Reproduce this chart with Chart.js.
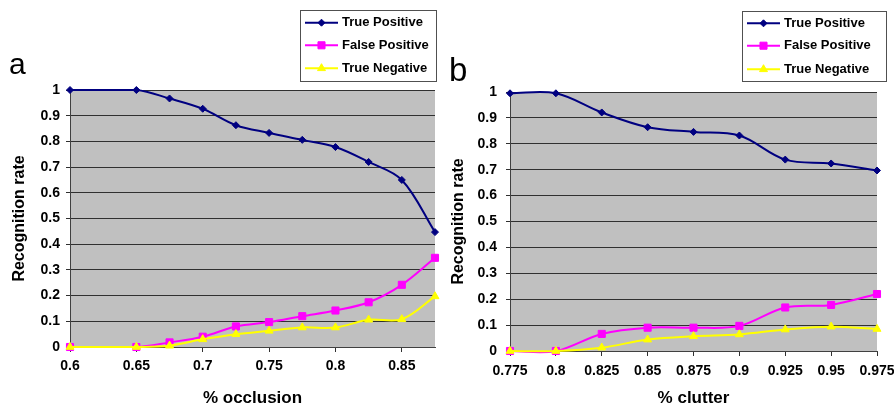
<!DOCTYPE html>
<html><head><meta charset="utf-8">
<script src="https://cdn.jsdelivr.net/npm/chart.js@4.4.1/dist/chart.umd.min.js"></script>
<style>
html,body{margin:0;padding:0;background:#fff;}
#wrap{position:relative;width:894px;height:407px;overflow:hidden;background:#fff;}
canvas{position:absolute;top:0;}
.tag{position:absolute;font-family:"Liberation Sans",Arial,sans-serif;line-height:1;color:#000;}
</style></head><body>
<div id="wrap">
<canvas id="ca" width="447" height="407" style="left:0"></canvas>
<canvas id="cb" width="447" height="407" style="left:447px"></canvas>
<div class="tag" style="left:9px;top:49px;font-size:30px">a</div>
<div class="tag" style="left:449px;top:53px;font-size:33px">b</div>
</div>
<script>
// ---- data ----
const seriesNames = ['True Positive', 'False Positive', 'True Negative'];

const occlusion = [0.6, 0.65, 0.675, 0.7, 0.725, 0.75, 0.775, 0.8, 0.825, 0.85, 0.875];
const tpOcclusion = [1.0, 1.0, 0.967, 0.927, 0.863, 0.833, 0.806, 0.778, 0.72, 0.65, 0.447];
const fpOcclusion = [0, 0, 0.018, 0.04, 0.08, 0.097, 0.12, 0.142, 0.174, 0.242, 0.347];
const tnOcclusion = [0, 0, 0.005, 0.03, 0.05, 0.063, 0.076, 0.076, 0.106, 0.108, 0.197];
const occlusionTicks = [0.6, 0.65, 0.7, 0.75, 0.8, 0.85];

const clutter = [0.775, 0.8, 0.825, 0.85, 0.875, 0.9, 0.925, 0.95, 0.975];
const tpClutter = [0.995, 0.995, 0.921, 0.864, 0.846, 0.832, 0.739, 0.724, 0.697];
const fpClutter = [0, 0, 0.066, 0.09, 0.09, 0.097, 0.168, 0.178, 0.22];
const tnClutter = [0, 0, 0.013, 0.044, 0.057, 0.064, 0.083, 0.094, 0.085];
const clutterTicks = [0.775, 0.8, 0.825, 0.85, 0.875, 0.9, 0.925, 0.95, 0.975];

const rateTicks = [0, 0.1, 0.2, 0.3, 0.4, 0.5, 0.6, 0.7, 0.8, 0.9, 1];

// ---- styling ----
const FAMILY = '"Liberation Sans", Arial, sans-serif';
Chart.defaults.font.family = FAMILY;
const colors = ['#000080', '#ff00ff', '#ffff00'];
const styles = ['rectRot', 'rect', 'triangle'];
const radii = [3.5, 5, 4.6];
const orders = [2, 1, 0];

const plotBg = {
  id: 'plotBg',
  beforeDraw(chart, args, o) {
    const {ctx, chartArea: a} = chart;
    ctx.save();
    ctx.fillStyle = o.color;
    ctx.fillRect(a.left, a.top, a.right - a.left, a.bottom - a.top);
    ctx.restore();
  }
};

function marker(ctx, style, r, x, y) {
  if (Chart.helpers && Chart.helpers.drawPoint) {
    Chart.helpers.drawPoint(ctx, {pointStyle: style, radius: r, rotation: 0, borderWidth: 1}, x, y);
    return;
  }
  ctx.beginPath();
  if (style === 'rect') { const s = r * Math.SQRT1_2; ctx.rect(x - s, y - s, 2 * s, 2 * s); }
  else if (style === 'rectRot') { ctx.moveTo(x, y - r); ctx.lineTo(x + r, y); ctx.lineTo(x, y + r); ctx.lineTo(x - r, y); ctx.closePath(); }
  else { ctx.moveTo(x, y - r); ctx.lineTo(x + r * 0.866, y + r / 2); ctx.lineTo(x - r * 0.866, y + r / 2); ctx.closePath(); }
  ctx.fill(); ctx.stroke();
}

const boxLegend = {
  id: 'boxLegend',
  afterDraw(chart, args, o) {
    const ctx = chart.ctx;
    ctx.save();
    ctx.fillStyle = '#fff';
    ctx.fillRect(o.x, o.y, o.w, o.h);
    ctx.strokeStyle = '#505050';
    ctx.lineWidth = 1;
    ctx.strokeRect(o.x + 0.5, o.y + 0.5, o.w, o.h);
    chart.data.datasets.forEach((ds, i) => {
      const y = o.rows[i];
      ctx.strokeStyle = ds.borderColor;
      ctx.lineWidth = 2;
      ctx.beginPath(); ctx.moveTo(o.x0, y); ctx.lineTo(o.x1, y); ctx.stroke();
      ctx.fillStyle = ds.pointBackgroundColor;
      ctx.lineWidth = 1;
      marker(ctx, ds.pointStyle, ds.pointRadius, (o.x0 + o.x1) / 2, y);
      ctx.fillStyle = '#000';
      ctx.font = 'bold 13px ' + FAMILY;
      ctx.textBaseline = 'middle';
      ctx.textAlign = 'left';
      ctx.fillText(ds.label, o.tx, y);
    });
    ctx.restore();
  }
};

function makeDatasets(xs, tp, fp, tn) {
  return [tp, fp, tn].map((ys, i) => ({
    label: seriesNames[i],
    data: xs.map((x, j) => ({x: x, y: ys[j]})),
    borderColor: colors[i],
    backgroundColor: colors[i],
    pointBackgroundColor: colors[i],
    pointBorderColor: colors[i],
    pointStyle: styles[i],
    pointRadius: radii[i],
    pointHoverRadius: radii[i],
    pointBorderWidth: 1,
    borderWidth: 2,
    tension: 0.35,
    fill: false,
    clip: false,
    order: orders[i]
  }));
}

function fmt(v) { return String(+Number(v).toFixed(3)); }

function makeChart(id, xs, tp, fp, tn, xTicks, cfg) {
  const tickFont = {size: 14, weight: 'bold', family: FAMILY};
  const titleFont = {size: 16, weight: 'bold', family: FAMILY, lineHeight: 1};
  return new Chart(document.getElementById(id), {
    type: 'line',
    data: {datasets: makeDatasets(xs, tp, fp, tn)},
    options: {
      responsive: false,
      animation: false,
      devicePixelRatio: 1,
      events: [],
      layout: {padding: {top: cfg.top, right: cfg.right, left: 0, bottom: 0}},
      elements: {line: {capBezierPoints: cfg.cap}},
      plugins: {
        legend: {display: false},
        tooltip: {enabled: false},
        plotBg: {color: '#c0c0c0'},
        boxLegend: cfg.legend
      },
      scales: {
        x: {
          type: 'linear',
          min: xs[0], max: xs[xs.length - 1],
          afterBuildTicks: s => { s.ticks = xTicks.map(v => ({value: v})); },
          afterFit: s => { s.height = cfg.xH; s.paddingLeft = 0; s.paddingRight = 0; },
          ticks: {color: '#000', font: tickFont, padding: cfg.xTickPad, maxRotation: 0, autoSkip: false, callback: fmt},
          grid: {drawOnChartArea: false, drawTicks: true, tickLength: 5, color: '#303030', lineWidth: 1},
          border: {color: '#404040', width: 1},
          title: {display: true, text: cfg.xTitle, color: '#000', font: {size: 17, weight: 'bold', family: FAMILY, lineHeight: 1}, padding: {top: 0, bottom: 0}}
        },
        y: {
          type: 'linear',
          min: 0, max: 1,
          afterBuildTicks: s => { s.ticks = rateTicks.map(v => ({value: v})); },
          afterFit: s => { s.width = cfg.yW; },
          ticks: {color: '#000', font: tickFont, padding: cfg.yTickPad, callback: fmt},
          grid: {color: '#303030', lineWidth: 1, drawTicks: true, tickLength: 4},
          border: {color: '#404040', width: 1},
          title: {display: true, text: 'Recognition rate', color: '#000', font: titleFont, padding: {top: cfg.yTitlePad, bottom: 0}}
        }
      }
    },
    plugins: [plotBg, boxLegend]
  });
}

makeChart('ca', occlusion, tpOcclusion, fpOcclusion, tnOcclusion, occlusionTicks, {
  top: 90, right: 12, xH: 60, yW: 70, xTickPad: 6, yTickPad: 6, yTitlePad: 12, cap: true,
  xTitle: '% occlusion',
  legend: {x: 300, y: 10, w: 136, h: 71, x0: 305, x1: 338, tx: 342, rows: [22.7, 45.3, 68.3]}
});

makeChart('cb', clutter, tpClutter, fpClutter, tnClutter, clutterTicks, {
  top: 92, right: 17, xH: 56, yW: 63, xTickPad: 7, yTickPad: 9, yTitlePad: 4, cap: false,
  xTitle: '% clutter',
  legend: {x: 295, y: 11, w: 144, h: 70, x0: 300, x1: 333, tx: 337, rows: [23.3, 45.7, 69.3]}
});
</script>
</body></html>
